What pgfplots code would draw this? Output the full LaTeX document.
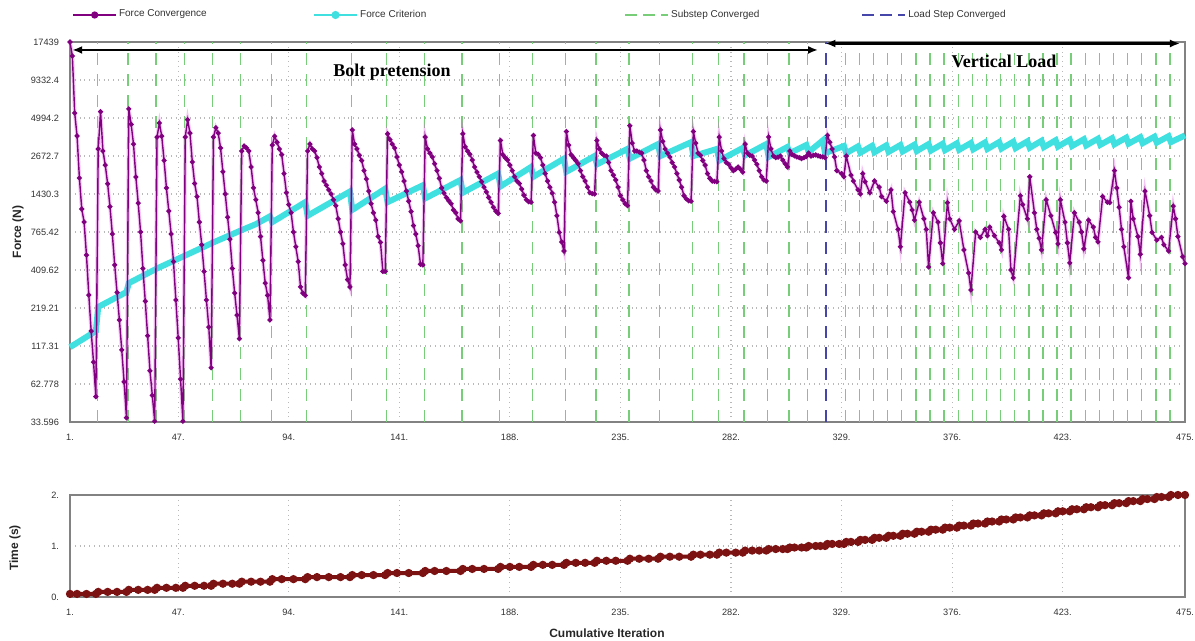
\documentclass[border=0pt]{standalone}
\usepackage{fontspec}
\setmainfont{Liberation Sans}
\newfontfamily\annotfont{Liberation Serif}
\usepackage{pgfplots}
\usepackage{pgfplotstable}
\pgfplotsset{compat=1.18}
\usetikzlibrary{arrows.meta}
\definecolor{fconv}{RGB}{128,0,128}
\definecolor{fglow}{RGB}{225,90,225}
\definecolor{fcrit}{RGB}{64,224,224}
\definecolor{subgreen}{RGB}{120,205,120}
\definecolor{loadblue}{RGB}{70,70,170}
\definecolor{timered}{RGB}{125,18,18}
\definecolor{gridgray}{RGB}{185,185,185}
\definecolor{framegray}{RGB}{130,130,130}
\definecolor{ticktext}{RGB}{50,50,50}

\pgfplotstableread[row sep=\\]{x y\\
1 17439\\ 2 13850\\ 3 5420\\ 4 3715\\ 5 1860\\ 6 1117\\ 7 902\\ 8 524\\ 9 271\\ 10 150\\ 11 90\\ 12 51\\
13 3000\\ 14 5540\\ 15 2900\\ 16 2300\\ 17 1690\\ 18 1160\\ 19 740\\ 20 445\\ 21 283\\ 22 180\\ 23 110\\ 24 65\\ 25 36\\
26 5800\\ 27 4500\\ 28 3250\\ 29 1890\\ 30 1230\\ 31 765\\ 32 420\\ 33 245\\ 34 139\\ 35 78\\ 36 52\\ 37 34\\
38 3650\\ 39 4600\\ 40 3700\\ 41 2480\\ 42 1580\\ 43 1080\\ 44 740\\ 45 470\\ 46 250\\ 47 134\\ 48 68\\ 49 34\\
50 3650\\ 51 4850\\ 52 3900\\ 53 2420\\ 54 1700\\ 55 1370\\ 56 900\\ 57 620\\ 58 400\\ 59 250\\ 60 160\\ 61 82\\
62 3650\\ 63 4250\\ 64 3900\\ 65 3050\\ 66 2060\\ 67 1430\\ 68 975\\ 69 680\\ 70 420\\ 71 280\\ 72 195\\ 73 132\\
74 2900\\ 75 3150\\ 76 3050\\ 77 2900\\ 78 2230\\ 79 1580\\ 80 1300\\ 81 1050\\ 82 710\\ 83 480\\ 84 330\\ 85 270\\ 86 180\\
87 3200\\ 88 3700\\ 89 3350\\ 90 3000\\ 91 2730\\ 92 2000\\ 93 1460\\ 94 1200\\ 95 1050\\ 96 765\\ 97 600\\ 98 470\\ 99 310\\ 100 280\\ 101 270\\
102 2900\\ 103 3250\\ 104 3000\\ 105 2900\\ 106 2600\\ 107 2230\\ 108 2000\\ 109 1770\\ 110 1650\\ 111 1530\\ 112 1430\\ 113 1300\\ 114 1180\\ 115 950\\ 116 765\\ 117 630\\ 118 445\\ 119 350\\ 120 310\\
121 4100\\ 122 3250\\ 123 3000\\ 124 2700\\ 125 2480\\ 126 2100\\ 127 1830\\ 128 1500\\ 129 1220\\ 130 1050\\ 131 930\\ 132 710\\ 133 645\\ 134 400\\ 135 400\\
136 3850\\ 137 3500\\ 138 3250\\ 139 3050\\ 140 2630\\ 141 2300\\ 142 2060\\ 143 1770\\ 144 1500\\ 145 1270\\ 146 1070\\ 147 850\\ 148 740\\ 149 610\\ 150 450\\ 151 445\\
152 3650\\ 153 3000\\ 154 2800\\ 155 2630\\ 156 2350\\ 157 2100\\ 158 1850\\ 159 1580\\ 160 1450\\ 161 1350\\ 162 1280\\ 163 1220\\ 164 1100\\ 165 1050\\ 166 950\\ 167 920\\
168 3850\\ 169 3100\\ 170 2900\\ 171 2750\\ 172 2500\\ 173 2230\\ 174 2050\\ 175 1900\\ 176 1750\\ 177 1600\\ 178 1480\\ 179 1350\\ 180 1250\\ 181 1150\\ 182 1080\\ 183 1040\\
184 3450\\ 185 2730\\ 186 2600\\ 187 2500\\ 188 2300\\ 189 2100\\ 190 1900\\ 191 1770\\ 192 1700\\ 193 1550\\ 194 1400\\ 195 1300\\ 196 1260\\ 197 1250\\
198 3750\\ 199 2800\\ 200 2750\\ 201 2600\\ 202 2300\\ 203 2000\\ 204 1770\\ 205 1600\\ 206 1450\\ 207 1250\\ 208 1000\\ 209 760\\ 210 650\\ 211 560\\
212 4000\\ 213 3200\\ 214 2730\\ 215 2600\\ 216 2480\\ 217 2350\\ 218 2100\\ 219 1900\\ 220 1770\\ 221 1600\\ 222 1460\\ 223 1440\\ 224 1430\\
225 3450\\ 226 3000\\ 227 2800\\ 228 2700\\ 229 2670\\ 230 2400\\ 231 2100\\ 232 1950\\ 233 1800\\ 234 1600\\ 235 1390\\ 236 1300\\ 237 1220\\ 238 1180\\
239 4400\\ 240 3300\\ 241 2900\\ 242 2900\\ 243 2850\\ 244 2800\\ 245 2500\\ 246 2100\\ 247 1900\\ 248 1770\\ 249 1600\\ 250 1530\\ 251 1500\\
252 4100\\ 253 3400\\ 254 3000\\ 255 2800\\ 256 2630\\ 257 2400\\ 258 2230\\ 259 2000\\ 260 1800\\ 261 1600\\ 262 1390\\ 263 1320\\ 264 1280\\ 265 1270\\
266 4000\\ 267 3300\\ 268 2800\\ 269 2700\\ 270 2480\\ 271 2300\\ 272 2000\\ 273 1850\\ 274 1770\\ 275 1760\\ 276 1750\\
277 3650\\ 278 2900\\ 279 2560\\ 280 2400\\ 281 2330\\ 282 2200\\ 283 2100\\ 284 2150\\ 285 2230\\ 286 2150\\ 287 2050\\
288 3250\\ 289 2800\\ 290 2700\\ 291 2670\\ 292 2500\\ 293 2330\\ 294 2100\\ 295 1900\\ 296 1800\\ 297 1770\\
298 3650\\ 299 3000\\ 300 2670\\ 301 2600\\ 302 2620\\ 303 2670\\ 304 2500\\ 305 2350\\ 306 2230\\
307 2900\\ 308 2730\\ 309 2680\\ 310 2630\\ 311 2600\\ 312 2560\\ 313 2600\\ 314 2650\\
315 2800\\ 316 2670\\ 317 2700\\ 318 2720\\ 319 2680\\ 320 2650\\ 321 2630\\ 322 2600\\
323 3750\\ 324 3350\\ 325 3000\\ 326 2630\\ 327 2100\\ 329 2000\\ 330 1900\\ 331 2670\\ 333 1950\\ 334 1770\\ 336 1530\\ 337 1430\\
338 2000\\ 339 1750\\ 341 1460\\ 343 1770\\ 345 1600\\ 346 1370\\ 348 1270\\ 350 1530\\ 351 1070\\ 353 800\\ 354 600\\
356 1460\\ 358 1250\\ 359 1100\\ 360 930\\ 362 1250\\ 364 950\\ 365 800\\ 366 430\\ 368 1050\\ 370 900\\ 371 640\\ 372 455\\
374 1240\\ 375 950\\ 377 800\\ 379 920\\ 381 570\\ 383 390\\ 384 295\\ 386 765\\ 388 700\\ 390 800\\ 391 720\\ 392 830\\ 394 720\\ 396 640\\ 397 570\\
398 990\\ 400 800\\ 401 410\\ 402 360\\ 405 1390\\ 406 1200\\ 408 950\\ 409 1900\\ 411 1050\\ 412 800\\ 413 690\\ 414 570\\
416 1300\\ 418 1000\\ 420 760\\ 421 630\\ 422 1300\\ 424 900\\ 425 640\\ 426 460\\ 428 1050\\ 430 900\\ 431 765\\ 432 580\\
434 930\\ 436 830\\ 437 700\\ 438 650\\ 440 1370\\ 442 1250\\ 443 1240\\ 445 2100\\ 446 1580\\ 447 1150\\ 448 800\\ 449 600\\ 451 360\\
452 1270\\ 453 950\\ 455 710\\ 456 530\\ 458 1500\\ 460 1000\\ 461 760\\ 463 670\\ 465 700\\ 466 620\\ 468 560\\
470 1170\\ 471 950\\ 472 710\\ 474 510\\ 475 455\\
}\conv

\pgfplotstableread[row sep=\\]{x y\\
1 115\\ 12 150\\ 13 223\\ 25 285\\ 26 330\\ 38 420\\ 50 520\\ 62 645\\ 74 790\\ 80 870\\ 86 990\\ 87 900\\
101 1250\\ 102 1000\\ 120 1490\\ 121 1100\\ 135 1560\\ 136 1250\\ 151 1650\\ 152 1330\\ 167 1800\\ 168 1460\\
183 2000\\ 184 1620\\ 197 2230\\ 198 1900\\ 211 2560\\ 212 2060\\ 224 2670\\ 225 2330\\ 238 3000\\ 239 2560\\
251 3250\\ 252 2670\\ 265 3350\\ 266 2670\\ 276 3000\\ 277 2480\\ 287 3050\\ 288 2700\\ 297 3250\\ 298 2630\\
306 3100\\ 307 2800\\ 314 3200\\ 315 2850\\ 321 3450\\ 322 2800\\
330 3150\\ 331 2800\\ 336 3130\\ 337 2820\\ 342 3160\\ 343 2840\\ 348 3180\\ 349 2860\\ 354 3200\\ 355 2880\\
360 3220\\ 361 2900\\ 366 3250\\ 367 2920\\ 372 3270\\ 373 2940\\ 378 3290\\ 379 2960\\ 384 3310\\ 385 2980\\
390 3340\\ 391 3000\\ 396 3360\\ 397 3020\\ 402 3380\\ 403 3040\\ 408 3400\\ 409 3060\\ 414 3430\\ 415 3090\\
420 3460\\ 421 3120\\ 426 3490\\ 427 3150\\ 432 3520\\ 433 3180\\ 438 3550\\ 439 3210\\ 444 3580\\ 445 3240\\
450 3610\\ 451 3270\\ 456 3640\\ 457 3300\\ 462 3670\\ 463 3330\\ 468 3700\\ 469 3360\\ 475 3750\\
}\crit

\pgfplotstableread[row sep=\\]{x y\\
1 0.06\\ 4 0.06\\ 8 0.06\\ 12 0.06\\ 13 0.10\\ 17 0.10\\ 21 0.10\\ 25 0.10\\ 26 0.14\\ 30 0.14\\ 34 0.14\\ 37 0.14\\ 38 0.18\\ 42 0.18\\ 46 0.18\\ 49 0.18\\
50 0.22\\ 54 0.22\\ 58 0.22\\ 61 0.22\\ 62 0.26\\ 66 0.26\\ 70 0.26\\ 73 0.26\\ 74 0.30\\ 78 0.30\\ 82 0.30\\ 86 0.30\\ 87 0.35\\ 91 0.35\\ 96 0.35\\ 101 0.35\\
102 0.39\\ 106 0.39\\ 111 0.39\\ 116 0.39\\ 120 0.39\\ 121 0.43\\ 125 0.43\\ 130 0.43\\ 135 0.43\\ 136 0.47\\ 140 0.47\\ 145 0.47\\ 151 0.47\\ 152 0.51\\ 156 0.51\\ 161 0.51\\ 167 0.51\\
168 0.55\\ 172 0.55\\ 177 0.55\\ 183 0.55\\ 184 0.59\\ 188 0.59\\ 192 0.59\\ 197 0.59\\ 198 0.63\\ 202 0.63\\ 206 0.63\\ 211 0.63\\ 212 0.67\\ 216 0.67\\ 220 0.67\\ 224 0.67\\
225 0.71\\ 229 0.71\\ 233 0.71\\ 238 0.71\\ 239 0.75\\ 243 0.75\\ 247 0.75\\ 251 0.75\\ 252 0.79\\ 256 0.79\\ 260 0.79\\ 265 0.79\\ 266 0.83\\ 269 0.83\\ 273 0.83\\ 276 0.83\\
277 0.87\\ 280 0.87\\ 284 0.87\\ 287 0.87\\ 288 0.91\\ 291 0.91\\ 294 0.91\\ 297 0.91\\ 298 0.94\\ 301 0.94\\ 304 0.94\\ 306 0.94\\ 307 0.97\\ 309 0.97\\ 312 0.97\\ 314 0.97\\
315 1.00\\ 318 1.00\\ 320 1.00\\ 322 1.00\\ 323 1.04\\ 325 1.04\\ 328 1.04\\ 330 1.04\\ 331 1.08\\ 333 1.08\\ 336 1.08\\ 337 1.12\\ 339 1.12\\ 342 1.12\\ 343 1.16\\ 345 1.16\\ 348 1.16\\
349 1.20\\ 351 1.20\\ 354 1.20\\ 355 1.24\\ 357 1.24\\ 360 1.24\\ 361 1.28\\ 363 1.28\\ 366 1.28\\ 367 1.32\\ 369 1.32\\ 372 1.32\\ 373 1.36\\ 375 1.36\\ 378 1.36\\ 379 1.40\\ 381 1.40\\ 384 1.40\\
385 1.44\\ 387 1.44\\ 390 1.44\\ 391 1.48\\ 393 1.48\\ 396 1.48\\ 397 1.52\\ 399 1.52\\ 402 1.52\\ 403 1.56\\ 405 1.56\\ 408 1.56\\ 409 1.60\\ 411 1.60\\ 414 1.60\\ 415 1.64\\ 417 1.64\\ 420 1.64\\
421 1.68\\ 423 1.68\\ 426 1.68\\ 427 1.72\\ 429 1.72\\ 432 1.72\\ 433 1.76\\ 435 1.76\\ 438 1.76\\ 439 1.80\\ 441 1.80\\ 444 1.80\\ 445 1.84\\ 447 1.84\\ 450 1.84\\ 451 1.88\\ 453 1.88\\ 456 1.88\\
457 1.92\\ 459 1.92\\ 462 1.92\\ 463 1.96\\ 465 1.96\\ 468 1.96\\ 469 2.00\\ 472 2.00\\ 475 2.00\\
}\timedata

\begin{document}
\begin{tikzpicture}
\useasboundingbox (0pt,0pt) rectangle (597.5pt,320.5pt);
\pgfplotsset{
  common/.style={
    scale only axis, width=557.5pt,
    xmin=1, xmax=475,
    xtick={1,47,94,141,188,235,282,329,376,423,475},
    xticklabels={1.,47.,94.,141.,188.,235.,282.,329.,376.,423.,475.},
    tick label style={font=\fontsize{4.6}{5}\selectfont, text=ticktext},
    xticklabel style={yshift=-2.5pt},
    yticklabel style={xshift=-2pt},
    major tick length=0pt,
    grid=major,
    major grid style={gridgray, dotted, line width=0.6pt},
    axis line style={framegray, line width=0.9pt},
    label style={font=\fontsize{6}{7}\selectfont\bfseries, text=black!85},
    clip=false,
  },
  legend image code/.code={\draw[mark repeat=2,mark phase=2,#1] plot coordinates {(0pt,0pt) (10.75pt,0pt) (21.5pt,0pt)};},
}
\begin{axis}[common, at={(35pt,109.5pt)}, anchor=south west, height=190pt,
  ymode=log, ymin=33.596, ymax=17439,
  ytick={33.596,62.778,117.31,219.21,409.62,765.42,1430.3,2672.7,4994.2,9332.4,17439},
  yticklabels={33.596,62.778,117.31,219.21,409.62,765.42,1430.3,2672.7,4994.2,9332.4,17439},
  ylabel={Force (N)},
  ylabel style={at={(axis description cs:-0.0466,0.5)}, anchor=center},
  legend columns=4,
  legend cell align=left,
  legend style={at={(axis description cs:0.0018,1.071)}, anchor=west, draw=none, fill=none,
    inner sep=0pt, font=\fontsize{5}{6}\selectfont, text=ticktext,
    nodes={inner sep=1pt},
    /tikz/column 2/.style={column sep=52pt},
    /tikz/column 4/.style={column sep=98pt},
    /tikz/column 6/.style={column sep=50pt}},
]
\addlegendimage{fconv, line width=0.8pt, mark=*, mark size=1.4pt}
\addlegendentry{Force Convergence}
\addlegendimage{fcrit, line width=1.2pt, mark=*, mark size=1.4pt}
\addlegendentry{Force Criterion}
\addlegendimage{subgreen, line width=0.9pt, dash pattern=on 6pt off 3pt}
\addlegendentry{Substep Converged}
\addlegendimage{loadblue, line width=0.9pt, dash pattern=on 6pt off 3pt}
\addlegendentry{Load Step Converged}

\pgfplotsinvokeforeach{12.6,25.6,37.6,49.6,61.6,73.6,86.6,101.6,120.6,135.6,151.6,167.6,183.6,197.6,211.6,224.6,238.6,251.6,265.6,276.6,287.6,297.6,306.6,314.6,330.6,336.6,342.6,348.6,354.6,360.6,366.6,372.6,378.6,384.6,390.6,396.6,402.6,408.6,414.6,420.6,426.6,432.6,438.6,444.6,450.6,456.6,462.6,468.6}{
  \addplot[subgreen, line width=0.7pt, dash pattern=on 6pt off 4.5pt, forget plot] coordinates {(#1,33.596) (#1,17439)};
}
\addplot[loadblue, line width=0.7pt, dash pattern=on 6pt off 4.5pt, forget plot] coordinates {(322.3,33.596) (322.3,17439)};

\addplot[fcrit, line width=3pt, forget plot] table[x=x,y=y]{\crit};
\addplot[fglow, line width=1.8pt, opacity=0.35, forget plot] table[x=x,y=y]{\conv};
\addplot[fconv, line width=0.7pt, mark=*, mark size=0.9pt, mark options={fill=fconv, draw=fconv}, forget plot] table[x=x,y=y]{\conv};

\draw[{Latex[length=5pt,width=4pt]}-{Latex[length=5pt,width=4pt]}, line width=1.4pt]
  (rel axis cs:0.002,0.979) -- (rel axis cs:0.6709,0.979);
\draw[{Latex[length=5pt,width=4pt]}-{Latex[length=5pt,width=4pt]}, line width=1.4pt]
  (rel axis cs:0.6775,0.996) -- (rel axis cs:0.9955,0.996);
\node[font=\annotfont\fontsize{9}{10}\selectfont\bfseries] at (rel axis cs:0.2888,0.921) {Bolt pretension};
\node[font=\annotfont\fontsize{9}{10}\selectfont\bfseries] at (rel axis cs:0.8377,0.950) {Vertical Load};
\end{axis}

\begin{axis}[common, at={(35pt,22pt)}, anchor=south west, height=51pt,
  ymin=0, ymax=2, ytick={0,1,2}, yticklabels={0.,1.,2.},
  ylabel={Time (s)},
  ylabel style={at={(axis description cs:-0.0493,0.48)}, anchor=center},
  xlabel={Cumulative Iteration},
  xlabel style={at={(axis description cs:0.4816,-0.353)}, anchor=center},
]
\addplot[timered, line width=2pt, mark=*, mark size=1pt, mark options={fill=timered}] table[x=x,y=y]{\timedata};
\end{axis}
\end{tikzpicture}
\end{document}
